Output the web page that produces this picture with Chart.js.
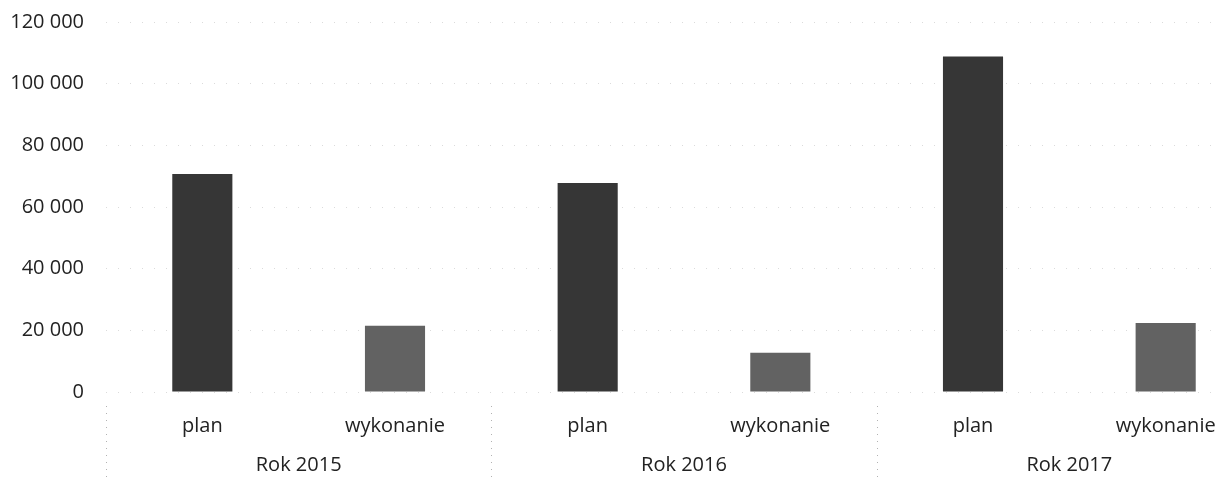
<!DOCTYPE html>
<html>
<head>
<meta charset="utf-8">
<script src="https://cdn.jsdelivr.net/npm/chart.js@4/dist/chart.umd.min.js"></script>
<style>
  html, body { margin: 0; padding: 0; background: #fff; overflow: hidden; }
  #wrap { width: 1262px; height: 482px; }
</style>
</head>
<body>
<div id="wrap"><canvas id="chart" width="1262" height="482"></canvas></div>
<script>
const categories = ["plan", "wykonanie", "plan", "wykonanie", "plan", "wykonanie"];
const years = ["Rok 2015", "Rok 2016", "Rok 2017"];
const values = [70700, 21500, 67800, 12700, 108800, 22400];
const barColors = ["#363636", "#626262", "#363636", "#626262", "#363636", "#626262"];
const yMax = 120000;
const yStep = 20000;

const font = { family: "'Open Sans', sans-serif", size: 20 };

// dotted separators between the year groups, below the plot
const groupSeparators = {
  id: "groupSeparators",
  afterDraw(chart) {
    const x = chart.scales.x;
    const ctx = chart.ctx;
    const per = categories.length / years.length;
    const top = chart.chartArea.bottom + 14;
    const bottom = chart.height;
    ctx.save();
    ctx.strokeStyle = "rgba(0,0,0,0.3)";
    ctx.lineWidth = 1;
    ctx.setLineDash([1, 6]);
    for (let g = 0; g <= years.length; g++) {
      let px;
      if (g === 0) px = x.left;
      else if (g === years.length) px = x.right;
      else px = (x.getPixelForValue(g * per - 1) + x.getPixelForValue(g * per)) / 2;
      ctx.beginPath();
      ctx.moveTo(Math.round(px) + 0.5, top);
      ctx.lineTo(Math.round(px) + 0.5, bottom);
      ctx.stroke();
    }
    ctx.restore();
  },
};

new Chart(document.getElementById("chart").getContext("2d"), {
  type: "bar",
  data: {
    labels: categories,
    datasets: [
      {
        label: "wartość",
        data: values,
        backgroundColor: barColors,
        borderWidth: 0,
        barPercentage: 0.312,
        categoryPercentage: 1,
      },
    ],
  },
  options: {
    responsive: false,
    animation: false,
    layout: { padding: 0 },
    plugins: {
      legend: { display: false },
      tooltip: { enabled: false },
    },
    scales: {
      y: {
        min: 0,
        max: yMax,
        ticks: {
          stepSize: yStep,
          color: "#222",
          font: font,
          padding: 22,
          callback: (v) => v.toLocaleString("en-US").replace(/,/g, " "),
        },
        grid: { color: "rgba(0,0,0,0.14)", drawTicks: false },
        border: { display: false, dash: [1, 11] },
        afterFit(scale) {
          scale.width = 106;
          scale.paddingTop = 22;
          scale.paddingBottom = 0;
        },
      },
      x: {
        ticks: { color: "#222", font: font, padding: 14 },
        grid: { display: false },
        border: { display: false },
        afterFit(scale) { scale.height = 50; },
      },
      x2: {
        type: "category",
        labels: years,
        position: "bottom",
        offset: true,
        ticks: { color: "#222", font: font, padding: 3 },
        grid: { display: false },
        border: { display: false },
        afterFit(scale) { scale.height = 40; },
      },
    },
  },
  plugins: [groupSeparators],
});
</script>
</body>
</html>
